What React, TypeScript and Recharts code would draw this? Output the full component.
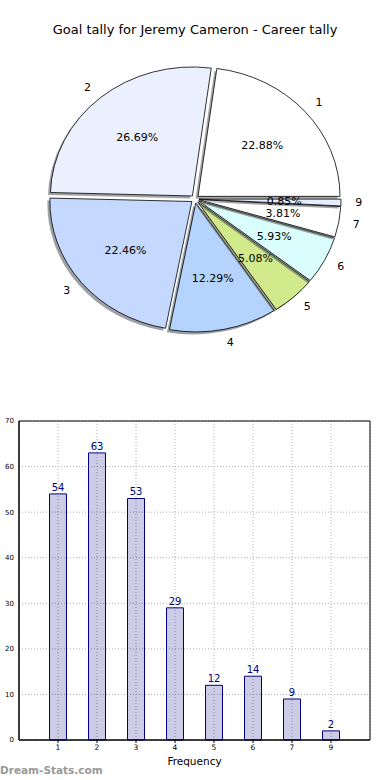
import React from 'react';
import { PieChart, Pie, Cell, BarChart, Bar, XAxis, YAxis, CartesianGrid, LabelList, ReferenceArea } from 'recharts';

const categories = ['1', '2', '3', '4', '5', '6', '7', '9'];
const goalCounts = [54, 63, 53, 29, 12, 14, 9, 2];
const sliceColors = ['#FFFFFF', '#EAF0FE', '#C5D8FE', '#B4D4FE', '#D1EA8B', '#DAFEFE', '#FFFFFF', '#E6EDFE'];
const yTicks = [0, 10, 20, 30, 40, 50, 60, 70];
const titleText = 'Goal tally for Jeremy Cameron - Career tally';

const pieData = categories.map((c, i) => ({ name: c, value: goalCounts[i] }));
const barData = categories.map((c, i) => ({ idx: i, name: c, value: goalCounts[i] }));

const FONT = '"DejaVu Sans", Verdana, sans-serif';
const RY_RATIO = 129 / 142;
const EXPLODE = 4;
const RAD = Math.PI / 180;

function darken(hex: string, f: number) {
  const n = parseInt(hex.slice(1), 16);
  const r = Math.round(((n >> 16) & 255) * f);
  const g = Math.round(((n >> 8) & 255) * f);
  const b = Math.round((n & 255) * f);
  return `rgb(${r},${g},${b})`;
}

function wedgePath(cx: number, cy: number, rx: number, ry: number, a0: number, a1: number) {
  const x0 = cx + rx * Math.cos(a0 * RAD);
  const y0 = cy - ry * Math.sin(a0 * RAD);
  const x1 = cx + rx * Math.cos(a1 * RAD);
  const y1 = cy - ry * Math.sin(a1 * RAD);
  const large = Math.abs(a1 - a0) > 180 ? 1 : 0;
  return `M${cx},${cy} L${x0},${y0} A${rx},${ry} 0 ${large} 0 ${x1},${y1} Z`;
}

const EllipseSector = (props: any) => {
  const { cx, cy, outerRadius, startAngle, endAngle, fill } = props;
  const mid = (startAngle + endAngle) / 2;
  const ex = cx + EXPLODE * Math.cos(mid * RAD);
  const ey = cy - EXPLODE * Math.sin(mid * RAD);
  const rx = outerRadius;
  const ry = outerRadius * RY_RATIO;
  const d = wedgePath(ex, ey, rx, ry, startAngle, endAngle);
  const ds = wedgePath(ex - 2.5, ey + 2.5, rx, ry, startAngle, endAngle);
  return (
    <g>
      <path d={ds} fill={darken(fill, 0.3)} fillOpacity={0.5} stroke="none" />
      <path d={d} fill={fill} stroke="#000" strokeWidth={0.8} strokeLinejoin="round" />
    </g>
  );
};

const renderPieLabel = (props: any) => {
  const { cx, cy, midAngle, outerRadius, percent, name } = props;
  const c = Math.cos(midAngle * RAD);
  const s = Math.sin(midAngle * RAD);
  const rx = outerRadius;
  const ry = outerRadius * RY_RATIO;
  const bx = cx + EXPLODE * c;
  const by = cy - EXPLODE * s;
  const lx = bx + 1.1 * rx * c;
  const ly = by - 1.1 * ry * s;
  const px = bx + 0.6 * rx * c;
  const py = by - 0.6 * ry * s;
  return (
    <g>
      <text x={lx} y={ly} textAnchor={c >= 0 ? 'start' : 'end'} dominantBaseline="central" fontSize={11} fontFamily={FONT} fill="#000">
        {name}
      </text>
      <text x={px} y={py} textAnchor="middle" dominantBaseline="central" fontSize={11} fontFamily={FONT} fill="#000">
        {(percent * 100).toFixed(2) + '%'}
      </text>
    </g>
  );
};

export default function App() {
  return (
    <div style={{ position: 'absolute', left: 0, top: 0, width: 390, height: 780, background: '#fff', fontFamily: FONT }}>
      <div style={{ position: 'absolute', left: 0, top: 21, width: 390, textAlign: 'center', fontSize: 13, fontFamily: FONT, color: '#000', lineHeight: '17px' }}>
        {titleText}
      </div>
      <div style={{ position: 'absolute', left: 0, top: 0 }}>
        <PieChart width={390} height={370} margin={{ top: 0, right: 0, bottom: 0, left: 0 }}>
          <Pie
            data={pieData}
            dataKey="value"
            nameKey="name"
            cx={195}
            cy={199}
            outerRadius={142}
            startAngle={0}
            endAngle={360}
            isAnimationActive={false}
            shape={EllipseSector}
            label={renderPieLabel}
            labelLine={false}
          >
            {pieData.map((d, i) => (
              <Cell key={d.name} fill={sliceColors[i]} />
            ))}
          </Pie>
        </PieChart>
      </div>
      <div style={{ position: 'absolute', left: 0, top: 400 }}>
        <BarChart width={390} height={380} data={barData} margin={{ top: 21, right: 20, bottom: 10, left: 0 }}>
          <CartesianGrid stroke="#b0b0b0" strokeDasharray="1 2" />
          <XAxis
            dataKey="idx"
            type="number"
            domain={[-1, 8]}
            ticks={[0, 1, 2, 3, 4, 5, 6, 7]}
            tickFormatter={(v: number) => categories[v]}
            allowDataOverflow
            height={30}
            tick={{ fontSize: 7.5, fill: '#000', fontFamily: FONT }}
            tickLine={{ stroke: '#000' }}
            tickSize={3}
            axisLine={{ stroke: '#000' }}
            label={{ value: 'Frequency', position: 'insideBottom', offset: 5, fontSize: 10.5, fill: '#000', fontFamily: FONT }}
          />
          <YAxis
            type="number"
            domain={[0, 70]}
            ticks={yTicks}
            width={19}
            tick={{ fontSize: 7, fill: '#000', fontFamily: FONT }}
            tickLine={false}
            tickSize={3}
            axisLine={{ stroke: '#000' }}
          />
          <Bar dataKey="value" barSize={17} fill="#000080" fillOpacity={0.2} stroke="#000080" strokeWidth={1} isAnimationActive={false}>
            <LabelList dataKey="value" position="top" offset={3} fontSize={10} fill="#000080" fontFamily={FONT} />
          </Bar>
          <ReferenceArea x1={-1} x2={8} y1={0} y2={70} fill="none" fillOpacity={0} stroke="#000" strokeWidth={1} ifOverflow="visible" />
        </BarChart>
      </div>
      <div style={{ position: 'absolute', left: 0, top: 763, fontSize: 10.5, fontFamily: FONT, color: '#999', lineHeight: '15px', fontWeight: 600 }}>
        Dream-Stats.com
      </div>
    </div>
  );
}
